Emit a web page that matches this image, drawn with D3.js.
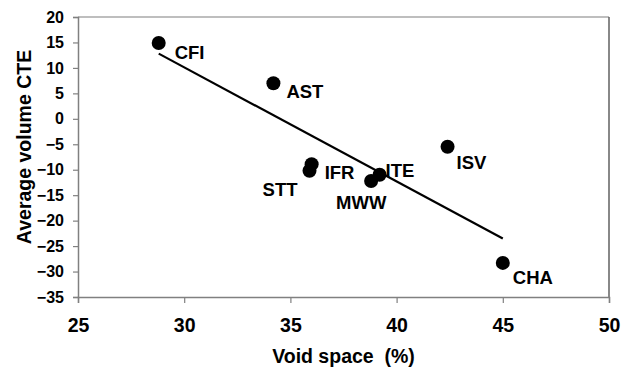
<!DOCTYPE html>
<html>
<head>
<meta charset="utf-8">
<script src="https://cdn.jsdelivr.net/npm/d3@7"></script>
<style>
  body { margin: 0; background: #fff; }
  svg text { font-family: "Liberation Sans", Arial, sans-serif; font-weight: bold; fill: #000; }
</style>
</head>
<body>
<svg id="chart" width="623" height="367"></svg>
<script>
// ===== DADOS =====
const sites = ["CFI", "AST", "STT", "IFR", "ITE", "MWW", "ISV", "CHA"];
const voidSpace = [28.8, 34.2, 35.9, 36.0, 39.2, 38.8, 42.4, 45.0];
const volumeCTE = [14.9, 7.0, -10.2, -8.9, -11.0, -12.2, -5.5, -28.3];
const xTicks = [25, 30, 35, 40, 45, 50];
const yTicks = [20, 15, 10, 5, 0, -5, -10, -15, -20, -25, -30, -35];

// deslocamento dos rótulos (px, relativo ao ponto)
const labelOffsets = {
  CFI: [16, 16, "start"], AST: [13, 15, "start"], STT: [-12, 25, "end"],
  IFR: [13, 15, "start"], ITE: [6, 2, "start"], MWW: [-35, 28, "start"],
  ISV: [9, 22, "start"], CHA: [10, 21, "start"]
};

const margin = { top: 17, right: 14, bottom: 70, left: 78 };
const width = 623 - margin.left - margin.right;
const height = 367 - margin.top - margin.bottom;

const svg = d3.select("#chart");
const g = svg.append("g").attr("transform", `translate(${margin.left},${margin.top})`);

const x = d3.scaleLinear().domain([25, 50]).range([0, width]);
const y = d3.scaleLinear().domain([-35, 20]).range([height, 0]);

const points = sites.map((s, i) => ({ name: s, x: voidSpace[i], y: volumeCTE[i] }));

// ===== MOLDURA =====
g.append("line").attr("x1", 0).attr("x2", width).attr("y1", 0).attr("y2", 0)
  .attr("stroke", "#a8a8a8").attr("stroke-width", 1.5);
g.append("line").attr("x1", width).attr("x2", width).attr("y1", 0).attr("y2", height)
  .attr("stroke", "#606060").attr("stroke-width", 1.5);

// ===== EIXOS =====
const xAxis = g.append("g").attr("transform", `translate(0,${height})`)
  .call(d3.axisBottom(x).tickValues(xTicks).tickSize(6).tickPadding(15));
const yAxis = g.append("g")
  .call(d3.axisLeft(y).tickValues(yTicks).tickSize(5).tickPadding(9));

xAxis.selectAll("text").style("font-size", "19.5px");
yAxis.selectAll("text").style("font-size", "16px");
[xAxis, yAxis].forEach(a => {
  a.select(".domain").attr("stroke", "#808080").attr("stroke-width", 1.5);
  a.selectAll(".tick line").attr("stroke", "#808080").attr("stroke-width", 1.2);
});

// ===== LINHA DE TENDÊNCIA (mínimos quadrados) =====
const mx = d3.mean(points, d => d.x);
const my = d3.mean(points, d => d.y);
const slope = d3.sum(points, d => (d.x - mx) * (d.y - my)) / d3.sum(points, d => (d.x - mx) ** 2);
const [x0, x1] = d3.extent(points, d => d.x);
g.append("line")
  .attr("x1", x(x0)).attr("y1", y(my + slope * (x0 - mx)))
  .attr("x2", x(x1)).attr("y2", y(my + slope * (x1 - mx)))
  .attr("stroke", "#000").attr("stroke-width", 2.2);

// ===== PONTOS =====
g.selectAll("circle").data(points).join("circle")
  .attr("cx", d => x(d.x)).attr("cy", d => y(d.y)).attr("r", 7)
  .attr("fill", "#000");

g.selectAll("text.lbl").data(points).join("text")
  .attr("class", "lbl")
  .attr("x", d => x(d.x) + labelOffsets[d.name][0])
  .attr("y", d => y(d.y) + labelOffsets[d.name][1])
  .attr("text-anchor", d => labelOffsets[d.name][2])
  .style("font-size", "18.5px")
  .text(d => d.name);

// ===== TÍTULOS =====
svg.append("text").attr("x", margin.left + width / 2).attr("y", 363)
  .attr("text-anchor", "middle").style("font-size", "19.5px")
  .text("Void space\u00a0 (%)");
svg.append("text").attr("transform", "translate(31,147) rotate(-90)")
  .attr("text-anchor", "middle").style("font-size", "19.5px")
  .text("Average volume CTE");
</script>
</body>
</html>
